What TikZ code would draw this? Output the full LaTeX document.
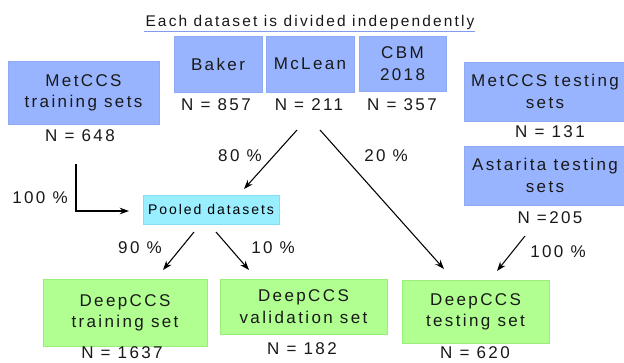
\documentclass[tikz,border=0pt]{standalone}
\usepackage{fontspec}
\setmainfont{Liberation Sans}[LetterSpace=14]
\usetikzlibrary{arrows.meta}
\definecolor{boxblue}{HTML}{99B4FF}
\definecolor{edgeblue}{HTML}{8FA9F5}
\definecolor{boxgreen}{HTML}{B0FF90}
\definecolor{edgegreen}{HTML}{98EE78}
\definecolor{boxcyan}{HTML}{99EEFF}
\definecolor{edgecyan}{HTML}{85DDF5}
\definecolor{lineblue}{HTML}{7F9CEE}

\begin{document}
\begin{tikzpicture}[x=0.75pt, y=-0.75pt,
    txt/.style={font=\fontsize{12.75}{16}\selectfont, text=black!90, inner sep=0pt},
    bluebox/.style={txt, fill=boxblue, draw=edgeblue, line width=0.6pt, align=center},
    greenbox/.style={txt, fill=boxgreen, draw=edgegreen, line width=0.6pt, align=center},
    cyanbox/.style={fill=boxcyan, draw=edgecyan, line width=0.6pt, inner sep=0pt,
        font=\fontsize{10.5}{12}\selectfont},
    nlabel/.style={txt},
    pct/.style={txt},
    arr/.style={-{Stealth[length=7pt, width=5pt]}, line width=0.8pt}]
    \useasboundingbox (0,0) rectangle (624,362);

    % Titulo
    \node[txt, font=\fontsize{11.6}{14}\selectfont] (title) at (310,22) {Each dataset is divided independently};
    \draw[lineblue, line width=0.7pt] (144,31) -- (475,31);

    % Conjuntos de origem
    \node[bluebox, minimum width=66pt, minimum height=42pt] (baker) at (218,64) {Baker};
    \node[bluebox, minimum width=66pt, minimum height=42pt] (mclean) at (310,64) {McLean};
    \node[bluebox, minimum width=65.25pt, minimum height=41.25pt] (cbm) at (402.5,63.5) {CBM\\2018};
    \node[bluebox, minimum width=113.25pt, minimum height=47.25pt] (mettrain) at (83.5,92.5) {MetCCS\\training sets};
    \node[bluebox, minimum width=121.5pt, minimum height=44.25pt] (mettest) at (545,91.5) {MetCCS testing\\sets};
    \node[bluebox, minimum width=121.5pt, minimum height=44.25pt] (astarita) at (545,175.5) {Astarita testing\\sets};

    \node[nlabel] (nbaker) at (216,105) {N = 857};
    \node[nlabel] (nmclean) at (309,105) {N = 211};
    \node[nlabel] (ncbm) at (402,105) {N = 357};
    \node[nlabel] (nmettrain) at (80,136) {N = 648};
    \node[nlabel] (nmettest) at (550,132) {N = 131};
    \node[nlabel] (nastarita) at (550,218) {N =205};

    % Pool
    \node[cyanbox, minimum width=102pt, minimum height=21.75pt] (pooled) at (211,209.5) {Pooled datasets};

    % Conjuntos DeepCCS
    \node[greenbox, minimum width=123pt, minimum height=50.25pt] (train) at (125,312.5) {DeepCCS\\training set};
    \node[greenbox, minimum width=125.25pt, minimum height=41.25pt] (valid) at (303.5,306.5) {DeepCCS\\validation set};
    \node[greenbox, minimum width=110.25pt, minimum height=47.25pt] (testset) at (475.5,311.5) {DeepCCS\\testing set};

    \node[nlabel] (ntrain) at (122,353) {N = 1637};
    \node[nlabel] (nvalid) at (302,349) {N = 182};
    \node[nlabel] (ntestset) at (475,353) {N = 620};

    % Pontas livres das setas
    \coordinate (s80) at (297,130);
    \coordinate (e80) at (244,189);
    \coordinate (s20) at (320,130);
    \coordinate (e20) at (444,269);
    \coordinate (sall) at (76,164);
    \coordinate (eall) at (129,211);
    \coordinate (s90) at (194,232);
    \coordinate (e90) at (163,270);
    \coordinate (s10) at (216,232);
    \coordinate (e10) at (249,270);
    \coordinate (sast) at (525,236);
    \coordinate (east) at (497,271);

    % Setas
    \draw[arr] (s80) -- (e80);
    \draw[arr] (s20) -- (e20);
    \draw[arr] (sall) |- (eall);
    \draw[arr] (s90) -- (e90);
    \draw[arr] (s10) -- (e10);
    \draw[arr] (sast) -- (east);

    % Percentagens
    \node[pct] (p80) at (240,156) {80 \%};
    \node[pct] (p20) at (386,156) {20 \%};
    \node[pct] (pall) at (40,198) {100 \%};
    \node[pct] (p90) at (140,248) {90 \%};
    \node[pct] (p10) at (273,248) {10 \%};
    \node[pct] (past) at (558,252) {100 \%};
\end{tikzpicture}
\end{document}
